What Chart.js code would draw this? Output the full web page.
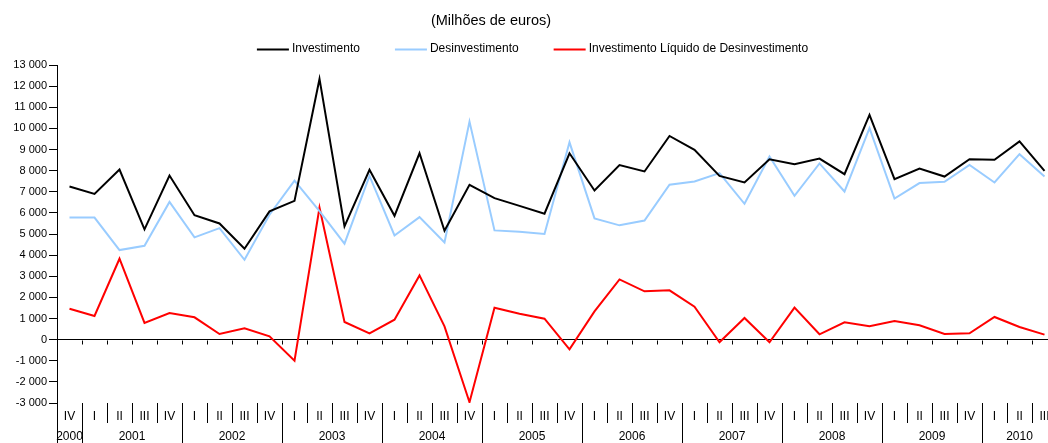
<!DOCTYPE html>
<html>
<head>
<meta charset="utf-8">
<script src="https://cdn.jsdelivr.net/npm/chart.js@4.4.1/dist/chart.umd.min.js"></script>
<style>
  html, body { margin: 0; padding: 0; background: #fff; overflow: hidden; }
  #wrap { width: 1048px; height: 443px; overflow: hidden; }
</style>
</head>
<body>
<div id="wrap"><canvas id="fdiChart" width="1060" height="443"></canvas></div>
<script>
const quarters = [
  'IV',
  'I', 'II', 'III', 'IV', 'I', 'II', 'III', 'IV', 'I', 'II', 'III', 'IV',
  'I', 'II', 'III', 'IV', 'I', 'II', 'III', 'IV', 'I', 'II', 'III', 'IV',
  'I', 'II', 'III', 'IV', 'I', 'II', 'III', 'IV', 'I', 'II', 'III', 'IV',
  'I', 'II', 'III'
];
const years = [
  '2000',
  '2001', '2001', '2001', '2001', '2002', '2002', '2002', '2002',
  '2003', '2003', '2003', '2003', '2004', '2004', '2004', '2004',
  '2005', '2005', '2005', '2005', '2006', '2006', '2006', '2006',
  '2007', '2007', '2007', '2007', '2008', '2008', '2008', '2008',
  '2009', '2009', '2009', '2009', '2010', '2010', '2010'
];

const investimento = [
  7250, 6900, 8050, 5220, 7770, 5890, 5500, 4300, 6070, 6570,
  12340, 5360, 8040, 5860, 8820, 5150, 7330, 6700, 6330, 5960,
  8820, 7060, 8260, 7960, 9640, 8980, 7750, 7440, 8540, 8300,
  8570, 7830, 10640, 7600, 8100, 7720, 8540, 8510, 9380, 7990
];
const desinvestimento = [
  5780, 5780, 4240, 4440, 6520, 4840, 5280, 3780, 5910, 7530,
  6080, 4540, 7750, 4930, 5800, 4600, 10320, 5170, 5110, 5000,
  9340, 5740, 5410, 5640, 7330, 7490, 7880, 6430, 8670, 6810,
  8340, 7010, 10010, 6680, 7410, 7470, 8270, 7440, 8780, 7720
];
const liquido = [
  1465, 1119, 3829, 788, 1261, 1056, 268, 536, 158, -993,
  6255, 835, 299, 945, 3041, 630, -2962, 1513, 1229, 993,
  -457, 1339, 2852, 2285, 2332, 1560, -126, 1024, -126, 1513,
  252, 819, 630, 882, 678, 268, 299, 1072, 599, 236
];

const subtitle = '(Milhões de euros)';
const FONT = '"Liberation Sans", Arial, sans-serif';

Chart.defaults.font.family = FONT;
Chart.defaults.color = '#000';

// subtitle, legend, year row and the little ticks on the zero line
const extras = {
  id: 'extras',
  afterDraw(chart) {
    const { ctx, scales: { x, y } } = chart;
    const step = x.getPixelForValue(1) - x.getPixelForValue(0);
    ctx.save();

    ctx.fillStyle = '#000';
    ctx.font = '14.5px ' + FONT;
    ctx.textAlign = 'center';
    ctx.textBaseline = 'middle';
    ctx.fillText(subtitle, 491, 21);

    // legend
    ctx.font = '12px ' + FONT;
    ctx.textAlign = 'left';
    const lineW = 32, gap = 3, itemGap = 35;
    const items = chart.data.datasets.map(ds => ({
      text: ds.label, color: ds.borderColor, w: lineW + gap + ctx.measureText(ds.label).width
    }));
    const total = items.reduce((s, it) => s + it.w, 0) + itemGap * (items.length - 1);
    let lx = 532.5 - total / 2;
    items.forEach(it => {
      ctx.strokeStyle = it.color;
      ctx.lineWidth = 2;
      ctx.beginPath();
      ctx.moveTo(lx, 49.5);
      ctx.lineTo(lx + lineW, 49.5);
      ctx.stroke();
      ctx.fillText(it.text, lx + lineW + gap, 49);
      lx += it.w + itemGap;
    });

    // ticks hanging from the zero line
    const y0 = Math.round(y.getPixelForValue(0)) + 0.5;
    ctx.strokeStyle = '#000';
    ctx.lineWidth = 1;
    ctx.beginPath();
    for (let i = 1; i <= quarters.length; i++) {
      const bx = Math.round(x.getPixelForValue(i) - step / 2) + 0.5;
      ctx.moveTo(bx, y0);
      ctx.lineTo(bx, y0 + 4);
    }
    ctx.stroke();

    // year dividers and year labels
    const bottom = chart.chartArea.bottom;
    ctx.beginPath();
    years.forEach((yr, i) => {
      if (i === 0 || yr !== years[i - 1]) {
        const bx = Math.round(x.getPixelForValue(i) - step / 2) + 0.5;
        ctx.moveTo(bx, bottom);
        ctx.lineTo(bx, chart.height);
      }
    });
    ctx.stroke();

    ctx.font = '12px ' + FONT;
    ctx.textAlign = 'center';
    const groups = {};
    years.forEach((yr, i) => { (groups[yr] = groups[yr] || []).push(x.getPixelForValue(i)); });
    Object.keys(groups).forEach(yr => {
      const px = groups[yr];
      ctx.fillText(yr, (px[0] + px[px.length - 1]) / 2, 437);
    });
    ctx.restore();
  }
};

const ctx = document.getElementById('fdiChart');
new Chart(ctx, {
  type: 'line',
  data: {
    labels: quarters,
    datasets: [
      { label: 'Investimento', data: investimento, borderColor: '#000000', backgroundColor: '#000000' },
      { label: 'Desinvestimento', data: desinvestimento, borderColor: '#99CCFF', backgroundColor: '#99CCFF' },
      { label: 'Investimento Líquido de Desinvestimento', data: liquido, borderColor: '#FF0000', backgroundColor: '#FF0000' }
    ]
  },
  options: {
    responsive: false,
    animation: false,
    devicePixelRatio: 1,
    elements: {
      line: { borderWidth: 2, tension: 0, fill: false },
      point: { radius: 0, hoverRadius: 0 }
    },
    layout: { padding: { top: 65, right: 3, bottom: 0, left: 0 } },
    plugins: {
      legend: { display: false },
      title: { display: false },
      tooltip: { enabled: false }
    },
    scales: {
      x: {
        offset: true,
        border: { display: false },
        grid: {
          offset: true,
          drawOnChartArea: false,
          drawTicks: true,
          tickLength: 20,
          color: '#000',
          lineWidth: 1
        },
        ticks: {
          autoSkip: false,
          maxRotation: 0,
          minRotation: 0,
          padding: -13.5,
          font: { size: 12 }
        },
        afterFit(scale) { scale.height = 40; }
      },
      y: {
        min: -3000,
        max: 13000,
        border: { display: true, color: '#000', width: 1 },
        grid: {
          drawTicks: true,
          tickLength: 8,
          tickColor: '#000',
          color: c => (c.tick && c.tick.value === 0 ? '#000' : 'rgba(0,0,0,0)')
        },
        ticks: {
          stepSize: 1000,
          padding: 2,
          font: { size: 11 },
          callback: v => {
            const s = Math.abs(v).toString().replace(/\B(?=(\d{3})+(?!\d))/g, ' ');
            return (v < 0 ? '-' : '') + s;
          }
        },
        afterFit(scale) { scale.width = 57; }
      }
    }
  },
  plugins: [extras]
});
</script>
</body>
</html>
